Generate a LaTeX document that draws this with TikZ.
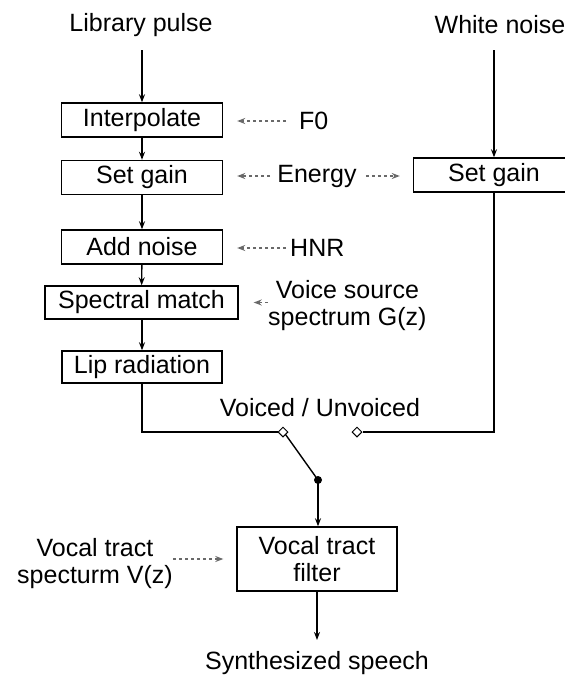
\documentclass[tikz,border=0pt]{standalone}
\usepackage{fontspec}
\setmainfont{Liberation Sans}
\usetikzlibrary{arrows.meta,shapes.geometric}
\definecolor{dgray}{RGB}{105,105,105}
\begin{document}
\begin{tikzpicture}[x=1pt,y=-1pt,
  font=\fontsize{25}{27}\selectfont,
  box/.style={draw,line width=1.4pt,inner sep=0pt,minimum height=34pt,align=center},
  lbl/.style={inner sep=0pt,align=center},
  ln/.style={line width=1.4pt},
  arr/.style={line width=1.4pt,-{Stealth[length=8pt,width=6pt]}},
  garr/.style={line width=1.4pt,draw=dgray,dash pattern=on 3pt off 3pt,-{Stealth[length=8pt,width=6pt,fill=dgray]}},
  sw/.style={diamond,draw,fill=white,line width=1pt,inner sep=0pt,minimum size=10pt},
  dotn/.style={circle,fill=black,inner sep=0pt,minimum size=8pt}]
\useasboundingbox (0,0) rectangle (565,675);

% labels
\node[lbl] (lib) at (141,25) {Library pulse};
\node[lbl] (wn) at (500,25) {White noise};
\node[lbl,anchor=west] (f0) at (299,121) {F0};
\node[lbl] (energy) at (317,176) {Energy};
\node[lbl,anchor=west] (hnr) at (290,248) {HNR};
\node[lbl,anchor=west,font=\fontsize{25}{27}\selectfont] (vs) at (268,306) {Voice source\\spectrum G(z)};
\node[lbl] (vu) at (320,408) {Voiced / Unvoiced};
\node[lbl,anchor=east] (vts) at (173,564) {Vocal tract\\specturm V(z)};
\node[lbl] (out) at (317,663) {Synthesized speech};

% boxes
\node[box,minimum width=161pt] (interp) at (142,120) {Interpolate};
\node[box,minimum width=161pt] (sg1) at (142,177.5) {Set gain};
\node[box,minimum width=161pt] (an) at (142,247) {Add noise};
\node[box,minimum width=193pt,minimum height=33pt] (sm) at (141.5,302.5) {Spectral match};
\node[box,minimum width=160pt,minimum height=32pt] (lr) at (142,367) {Lip radiation};
\node[box,minimum width=161pt] (sg2) at (494,175) {Set gain};
\node[box,minimum width=160pt,minimum height=64pt] (vtf) at (317,559) {Vocal tract\\filter};

% switch
\coordinate (libout) at (142,50);
\coordinate (wnout) at (494,50);
\coordinate (lcorner) at (142,432);
\coordinate (rcorner) at (494,432);
\coordinate (outend) at (317,640);

% main chain
\draw[arr] (libout) -- (interp.north);
\draw[arr] (interp) -- (sg1);
\draw[arr] (sg1) -- (an);
\draw[arr] (an) -- (sm);
\draw[arr] (sm.south -| lr.north) -- (lr.north);
\draw[arr] (wnout) -- (sg2.north);

\node[sw] (d1) at (283,432) {};
\node[sw] (d2) at (357,432) {};
\node[dotn] (dot) at (318,480) {};

\draw[ln] (lr.south) -- (lcorner) -- (d1.west);
\draw[ln] (sg2.south) -- (rcorner) -- (d2.east);
\draw[ln] (d1.south east) -- (dot.center);
\draw[arr] (dot.center) -- (vtf.north -| dot.center);
\draw[arr] (vtf.south) -- (outend);

% parameter arrows
\draw[garr,shorten <=13pt,shorten >=14pt] (f0.west) -- (interp.east |- f0.west);
\draw[garr,shorten <=7pt,shorten >=14pt] (energy.west) -- (sg1.east |- energy.west);
\draw[garr,shorten <=9pt,shorten >=13pt] (energy.east) -- (sg2.west |- energy.east);
\draw[garr,shorten <=4pt,shorten >=14pt] (hnr.west) -- (an.east |- hnr.west);
\draw[garr,shorten <=0pt,shorten >=15pt] (vs.west |- sm.east) -- (sm.east);
\draw[garr,shorten <=0pt,shorten >=13pt] (vts.east |- vtf.west) -- (vtf.west);
\end{tikzpicture}
\end{document}
